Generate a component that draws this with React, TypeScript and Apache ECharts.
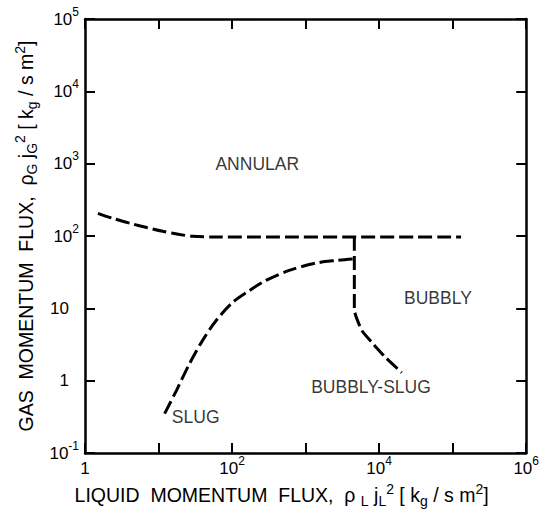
import React, { useEffect, useRef } from "react";
import * as echarts from "echarts";

const FONT = "'Liberation Sans', Arial, Helvetica, sans-serif";
const INK = "#000000";

// Axis ranges (log10 decades)
const X_RANGE = [1, 1e6];
const Y_RANGE = [0.1, 1e5];

// Boundary: annular / slug-bubbly transition (upper curve)
const annularBoundary: [number, number][] = [
  [1.5, 206], [2.4, 175], [4.1, 150], [6.9, 131], [11.4, 116], [19.4, 105], [29, 99], [60, 97], [1.3e5, 97],
];
// Boundary: slug curve
const slugBoundary: [number, number][] = [
  [12.1, 0.35], [17.5, 0.73], [26.4, 1.72], [39.6, 3.58], [60.8, 6.78], [101, 12.0], [172, 17.6], [289, 24.3],
  [597, 33.4], [1374, 42.2], [2563, 45.9], [4600, 48.4],
];
// Boundary: bubbly / bubbly-slug
const bubblyBoundary: [number, number][] = [
  [4600, 97], [4600, 9.5], [4900, 7.5], [5850, 4.9], [8000, 3.36], [12300, 2.08], [20300, 1.29],
];
// Region labels
const regionNames = ["ANNULAR", "BUBBLY", "BUBBLY-SLUG", "SLUG"];
const regionX = [220, 63000, 7750, 32];
const regionY = [1000, 14, 0.83, 0.31];

const xTitle = "LIQUID\u00a0 MOMENTUM\u00a0 FLUX,\u00a0 ρ {sub|L} j{sub|L}{sup|2} [ k{sub|g} / s m{sup|2}]";
const yTitle = "GAS\u00a0 MOMENTUM\u00a0 FLUX,\u00a0 ρ{sub|G} j{sub|G}{sup|2} [ k{sub|g} / s m{sup|2}]";

const tickRich = {
  b: { fontSize: 17, lineHeight: 27, fontFamily: FONT, color: INK },
  bp: { fontSize: 17, lineHeight: 27, fontFamily: FONT, color: INK, padding: [0, 10, 0, 0] },
  sup: { fontSize: 12, lineHeight: 11, verticalAlign: "top", fontFamily: FONT, color: INK },
};

const nameRich = {
  sub: { fontSize: 14, lineHeight: 10, verticalAlign: "bottom", fontFamily: FONT, color: INK },
  sup: { fontSize: 14, lineHeight: 18, verticalAlign: "top", fontFamily: FONT, color: INK },
};

const expOf = (v: number) => Math.round(Math.log10(v));

export default function App() {
  const ref = useRef<HTMLDivElement>(null);
  useEffect(() => {
    if (!ref.current) return;
    const chart = echarts.init(ref.current, undefined, { renderer: "svg" });
    const dashed = { color: INK, width: 3, type: [14, 5] as number[] };
    const axisCommon = {
      type: "log" as const,
      logBase: 10,
      splitNumber: 6,
      axisLine: { show: true, onZero: false, lineStyle: { color: INK, width: 2.5 } },
      axisTick: { show: true, inside: true, length: 10, lineStyle: { color: INK, width: 2 } },
      splitLine: { show: false },
      minorTick: { show: false },
    };
    chart.setOption({
      animation: false,
      backgroundColor: "#ffffff",
      grid: { left: 85, right: 14, top: 19, bottom: 70, containLabel: false },
      xAxis: [
        {
          ...axisCommon,
          min: X_RANGE[0],
          max: X_RANGE[1],
          position: "bottom",
          axisLabel: {
            margin: 2,
            formatter: (v: number) => {
              const e = expOf(v);
              if (e % 2 !== 0) return "";
              if (e === 0) return "{b|1}";
              return "{b|10}{sup|" + e + "}";
            },
            rich: tickRich,
          },
          name: xTitle,
          nameLocation: "middle",
          nameGap: 27,
          nameTextStyle: {
            fontSize: 19.5,
            lineHeight: 26,
            fontFamily: FONT,
            color: INK,
            padding: [0, 48, 0, 0],
            rich: nameRich,
          },
        },
        {
          ...axisCommon,
          min: X_RANGE[0],
          max: X_RANGE[1],
          position: "top",
          axisLabel: { show: false },
        },
      ],
      yAxis: [
        {
          ...axisCommon,
          min: Y_RANGE[0],
          max: Y_RANGE[1],
          position: "left",
          axisLabel: {
            margin: 6,
            formatter: (v: number) => {
              const e = expOf(v);
              if (e === 0) return "{bp|1}";
              if (e === 1) return "{bp|10}";
              return "{b|10}{sup|" + e + "}";
            },
            rich: tickRich,
          },
          name: yTitle,
          nameLocation: "middle",
          nameGap: 40,
          nameRotate: 90,
          nameTextStyle: {
            fontSize: 19.5,
            lineHeight: 26,
            fontFamily: FONT,
            color: INK,
            rich: nameRich,
          },
        },
        {
          ...axisCommon,
          min: Y_RANGE[0],
          max: Y_RANGE[1],
          position: "right",
          axisLabel: { show: false },
        },
      ],
      series: [
        { type: "line", data: annularBoundary, symbol: "none", smooth: 0.3, lineStyle: dashed, silent: true },
        { type: "line", data: slugBoundary, symbol: "none", smooth: 0.3, lineStyle: dashed, silent: true },
        { type: "line", data: bubblyBoundary, symbol: "none", smooth: 0.2, lineStyle: dashed, silent: true },
        {
          type: "scatter",
          symbolSize: 0,
          silent: true,
          data: regionNames.map((n, i) => ({ name: n, value: [regionX[i], regionY[i]] })),
          label: {
            show: true,
            position: "inside",
            formatter: (p: any) => p.name,
            fontSize: 17.5,
            fontFamily: FONT,
            color: INK,
          },
        },
      ],
    });
    return () => chart.dispose();
  }, []);
  return (
    <div
      ref={ref}
      style={{ position: "fixed", left: 0, top: 0, width: 542, height: 523, background: "#fff" }}
    />
  );
}
